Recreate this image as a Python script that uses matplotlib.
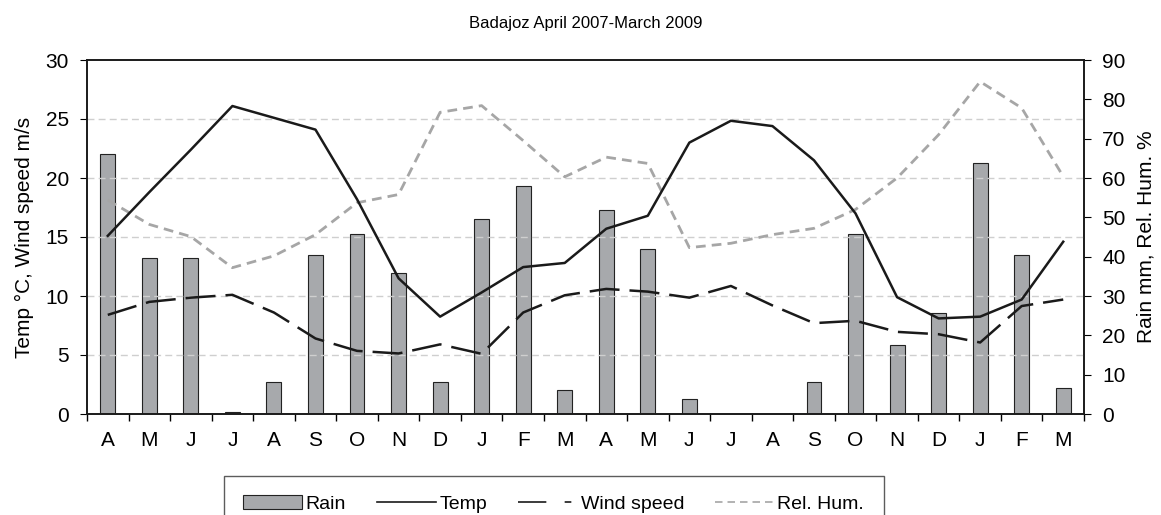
import matplotlib
matplotlib.use("Agg")
import matplotlib.pyplot as plt
import numpy as np
from matplotlib.lines import Line2D
from matplotlib.patches import Patch

months = ["A", "M", "J", "J", "A", "S", "O", "N", "D", "J", "F", "M",
          "A", "M", "J", "J", "A", "S", "O", "N", "D", "J", "F", "M"]

rain = [66.0, 39.7, 39.7, 0.5, 8.2, 40.3, 45.8, 35.9, 8.2, 49.6, 57.9, 6.0,
        51.8, 42.0, 3.8, 0.0, 0.0, 8.2, 45.8, 17.5, 25.6, 63.8, 40.3, 6.5]
temp = [15.1, 18.8, 22.4, 26.1, 25.1, 24.1, 18.2, 11.5, 8.25, 10.3, 12.45, 12.8,
        15.7, 16.8, 23.0, 24.85, 24.4, 21.5, 17.0, 9.9, 8.1, 8.25, 9.7, 14.6]
wind = [8.4, 9.5, 9.86, 10.1, 8.6, 6.4, 5.35, 5.13, 5.9, 5.1, 8.6, 10.06,
        10.6, 10.37, 9.86, 10.85, 9.2, 7.7, 7.9, 6.96, 6.76, 6.06, 9.15, 9.7]
rel_hum = [54.4, 48.2, 45.1, 37.2, 40.2, 45.6, 53.7, 55.8, 76.7, 78.4, 69.5, 60.3,
           65.3, 63.7, 42.3, 43.4, 45.6, 47.2, 52.0, 60.0, 71.0, 84.5, 77.8, 60.4]

plt.rcParams["font.family"] = ["Liberation Sans", "DejaVu Sans"]

fig = plt.figure(figsize=(11.61, 5.15), dpi=100)
ax = fig.add_axes([87 / 1161, 1 - 414 / 515, 997 / 1161, 354 / 515])
ax2 = ax.twinx()

x = np.arange(len(months))

# rain bars on the right axis, drawn behind the lines
ax2.bar(x, rain, width=0.36, color="#A7A9AC", edgecolor="#222222", linewidth=0.8, zorder=1)
ax2.set_ylim(0, 90)
ax2.set_yticks(np.arange(0, 91, 10))

ax.set_zorder(ax2.get_zorder() + 1)
ax.patch.set_visible(False)

for yv in [5, 10, 15, 20, 25]:
    ax.axhline(yv, color="#CFCFCF", linestyle=(0, (5, 3)), linewidth=1.0, zorder=0)

ax.plot(x, temp, color="#1a1a1a", linewidth=1.8, zorder=3)
ax.plot(x, wind, color="#1a1a1a", linewidth=1.8, dashes=(12, 4), zorder=3)
# rel. hum. shares the right scale (0-90), drawn on the left axes scaled by 3
ax.plot(x, np.array(rel_hum) / 3.0, color="#A6A6A6", linewidth=2.0,
        dashes=(3.5, 2.2), zorder=2)

ax.set_xlim(-0.5, len(months) - 0.5)
ax.set_ylim(0, 30)
ax.set_yticks(np.arange(0, 31, 5))
ax.set_xticks(x)
ax.set_xticklabels(months)
ax.set_xticks(np.arange(-0.5, len(months), 1), minor=True)
ax.tick_params(axis="x", which="major", length=0, pad=12, labelsize=15)
ax.tick_params(axis="x", which="minor", length=5, direction="out", width=1.0)
ax.tick_params(axis="y", labelsize=15, length=5, direction="out", pad=8)
ax2.tick_params(axis="y", labelsize=15, length=5, direction="out", pad=8)

ax.set_ylabel("Temp °C, Wind speed m/s", fontsize=15, labelpad=8)
ax2.set_ylabel("Rain mm, Rel. Hum. %", fontsize=15, labelpad=8)
ax.set_title("Badajoz April 2007-March 2009", fontsize=12, pad=23)

for a in (ax, ax2):
    for s in a.spines.values():
        s.set_linewidth(1.2)
        s.set_color("#1a1a1a")

handles = [
    Patch(facecolor="#A7A9AC", edgecolor="#222222", linewidth=0.8),
    Line2D([], [], color="#1a1a1a", linewidth=1.2),
    Line2D([], [], color="#1a1a1a", linewidth=1.2, dashes=(17, 11, 4, 20)),
    Line2D([], [], color="#A6A6A6", linewidth=1.2, dashes=(4.5, 3)),
]
labels = ["Rain", "Temp", "Wind speed", "Rel. Hum."]
leg = fig.legend(handles, labels, loc="upper center", bbox_to_anchor=(0.477, 1 - 476 / 515),
                 ncol=4, fontsize=14, frameon=True, fancybox=False, edgecolor="#333333",
                 handlelength=3.0, handletextpad=0.2, columnspacing=1.6,
                 borderpad=1.0, borderaxespad=0)
leg.get_frame().set_linewidth(1.0)

fig.savefig("out.png", dpi=100)
